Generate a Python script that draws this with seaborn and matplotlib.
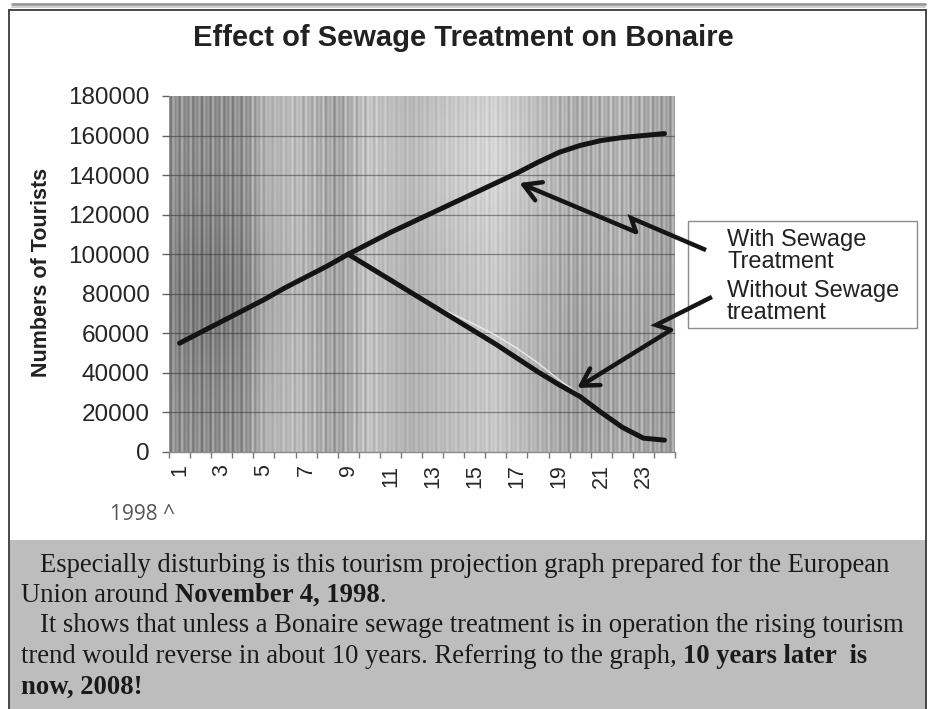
import numpy as np
import matplotlib
matplotlib.use("Agg")
import matplotlib.pyplot as plt
import seaborn as sns
import pandas as pd
from matplotlib.patches import Rectangle

# ---------------- data ----------------
categories = list(range(1, 25))
with_treatment = [55000, 60500, 66000, 71500, 77000, 83000, 88500, 94000, 100000,
                  105500, 111000, 116000, 121000, 126000, 131000, 136000, 141000,
                  146500, 151500, 155000, 157500, 159000, 160000, 161000]
without_categories = list(range(9, 25))
without_treatment = [100000, 93500, 87000, 80500, 74000, 67500, 61000, 54500, 47500,
                     40500, 34000, 28000, 20000, 12500, 7000, 6000]
trace_categories = list(range(13, 21))
trace_values = [74500, 69500, 64500, 59000, 52500, 45000, 36500, 29000]
y_ticks = [0, 20000, 40000, 60000, 80000, 100000, 120000, 140000, 160000, 180000]
x_tick_positions = list(range(1, 24, 2))
x_tick_labels = [str(c) for c in x_tick_positions]
title = "Effect of Sewage Treatment on Bonaire"
y_label = "Numbers of Tourists"
legend_with = ["With Sewage", "Treatment"]
legend_without = ["Without Sewage", "treatment"]

df_with = pd.DataFrame({"cat": categories, "tourists": with_treatment})
df_without = pd.DataFrame({"cat": without_categories, "tourists": without_treatment})
df_trace = pd.DataFrame({"cat": trace_categories, "tourists": trace_values})

# ---------------- figure ----------------
sns.set_theme(style="white")
plt.rcParams["font.family"] = ["Liberation Sans", "DejaVu Sans"]
W, H = 933, 709
fig = plt.figure(figsize=(W / 100, H / 100), dpi=100)
fig.patch.set_facecolor("white")

# overlay in pixel coordinates for page decorations
ov = fig.add_axes([0, 0, 1, 1], zorder=-1)
ov.set_xlim(0, W)
ov.set_ylim(H, 0)
ov.axis("off")

ax = fig.add_axes([169 / W, 1 - 452 / H, (675 - 169) / W, (452 - 96) / H], zorder=1)

# textured grey background of the plot area (decoration)
nx, ny = 700, 240
xs = np.linspace(0.5, 24.5, nx)
yv = np.linspace(0, 180000, ny)
ctrl_x = [0.5, 2, 4, 5, 6.5, 8.5, 10, 12, 14, 16, 18, 20, 22, 24.5]
ctrl_v = [0.58, 0.56, 0.58, 0.70, 0.74, 0.64, 0.76, 0.70, 0.75, 0.79, 0.72, 0.67, 0.70, 0.63]
base = np.interp(xs, ctrl_x, ctrl_v)
density = np.interp(xs, [0.5, 4.5, 5.5, 7.5, 9.5, 11, 18, 19.5, 24.5],
                    [1, 1, 0.35, 0.9, 0.9, 0.35, 0.45, 0.9, 0.9])
stripes = density * (0.08 * np.sin(2 * np.pi * xs / 0.21) + 0.05 * np.sin(2 * np.pi * xs / 0.37 + 1.3))
X, Y = np.meshgrid(xs, yv)
img = base[None, :] + stripes[None, :]
img = img - 0.08 * np.exp(-((X - 2.5) ** 2 / 10 + (Y - 80000) ** 2 / 45000 ** 2))
img = img + 0.05 * np.exp(-((X - 15) ** 2 / 20 + (Y - 150000) ** 2 / 40000 ** 2))
img = img - 0.05 * np.exp(-((X - 21) ** 2 / 12 + (Y - 40000) ** 2 / 50000 ** 2))
ax.imshow(img, cmap="gray", vmin=0, vmax=1, extent=[0.5, 24.5, 0, 180000],
          origin="lower", aspect="auto", interpolation="bilinear", zorder=0)

for yt in y_ticks[1:-1]:
    ax.axhline(yt, color="#222222", lw=0.9, alpha=0.45, zorder=1)

# data lines
sns.lineplot(data=df_with, x="cat", y="tourists", ax=ax, color="#141414", lw=3.6,
             zorder=4, solid_capstyle="round")
sns.lineplot(data=df_without, x="cat", y="tourists", ax=ax, color="#141414", lw=3.6,
             zorder=4, solid_capstyle="round")
sns.lineplot(data=df_trace, x="cat", y="tourists", ax=ax, color="#f2f2f2", lw=1.0,
             alpha=0.85, zorder=3)

ax.set_xlim(0.5, 24.5)
ax.set_ylim(0, 180000)
ax.set_xlabel("")
ax.set_ylabel("")
ax.set_yticks(y_ticks)
ax.set_yticklabels([str(v) for v in y_ticks])
ax.set_xticks(x_tick_positions)
ax.set_xticklabels(x_tick_labels, rotation=90)
ax.set_xticks([c + 0.5 for c in range(0, 25)], minor=True)
ax.tick_params(axis="y", which="major", left=True, length=5, width=1, color="#666666",
               labelsize=17.5, labelcolor="#262626", pad=9)
ax.tick_params(axis="x", which="major", bottom=False, length=0, labelsize=15.5,
               labelcolor="#262626", pad=9)
ax.tick_params(axis="x", which="minor", bottom=True, length=4, width=1, color="#777777")
for s in ["top", "right", "left"]:
    ax.spines[s].set_visible(False)
ax.spines["bottom"].set_color("#8a8a8a")
ax.spines["bottom"].set_linewidth(1)
ax.grid(False)

# hand-drawn style arrows (annotation)
arrow_color = "#151515"
a1 = [(25.97, 102100), (22.42, 118300), (22.65, 111200)]
a1_tip = (17.12, 136000)
a2 = [(26.25, 78400), (23.60, 64200), (24.31, 61700)]
a2_tip = (19.86, 32400)
for pts, tip in [(a1, a1_tip), (a2, a2_tip)]:
    ax.plot([p[0] for p in pts], [p[1] for p in pts], color=arrow_color, lw=3.2,
            clip_on=False, zorder=6, solid_joinstyle="miter", solid_capstyle="butt")
    ax.annotate("", xy=tip, xytext=pts[-1], annotation_clip=False, zorder=6,
                arrowprops=dict(arrowstyle="->,head_length=0.55,head_width=0.32",
                                color=arrow_color, lw=3.2, shrinkA=0, shrinkB=0,
                                mutation_scale=22))

# ---------------- page decorations ----------------
ov.plot([12, 925], [4, 4], color="#9a9a9a", lw=2.0)
ov.plot([12, 925], [7, 7], color="#c8c8c8", lw=1.2)
ov.add_patch(Rectangle((9, 540), 917, 175, facecolor="#bdbdbd", edgecolor="none"))
ov.plot([9, 9], [10, H], color="#3a3a3a", lw=1.3)
ov.plot([926, 926], [10, H], color="#3a3a3a", lw=1.3)
ov.plot([9, 926], [10, 10], color="#3a3a3a", lw=1.3)

# legend box
ov.add_patch(Rectangle((688, 221), 229, 107, facecolor="white", edgecolor="#8c8c8c", lw=1.0))
for txt, yb in zip(legend_with + legend_without, [246, 268, 297, 319]):
    ov.text(727, yb, txt, fontsize=17, color="#222222", ha="left", va="baseline")

# title & axis label
ov.text(463, 38, title, fontsize=21, fontweight="bold", color="#222222",
        ha="center", va="center")
ov.text(42, 272, y_label, fontsize=15.5, fontweight="bold", color="#222222",
        rotation=90, ha="center", va="center")
ov.text(110, 520, "1998 ^", fontsize=15, color="#555555", family=["Open Sans", "DejaVu Sans"],
        ha="left", va="baseline")

# body text with mixed bold runs
renderer = fig.canvas.get_renderer()
serif = ["Liberation Serif", "DejaVu Serif"]
fs = 19.2


def width_of(s, bold):
    t = ov.text(0, 0, s, fontsize=fs, family=serif, fontweight="bold" if bold else "normal")
    w = t.get_window_extent(renderer=renderer).width
    t.remove()
    return w


space_w = width_of("x x", False) - width_of("xx", False)


def line(x, yb, parts):
    for s, bold in parts:
        lead = len(s) - len(s.lstrip(" "))
        trail = len(s) - len(s.rstrip(" "))
        core = s.strip(" ")
        x += lead * space_w
        t = ov.text(x, yb, core, fontsize=fs, family=serif, color="#1a1a1a",
                    fontweight="bold" if bold else "normal", ha="left", va="baseline")
        x += t.get_window_extent(renderer=renderer).width + trail * space_w


line(40, 572, [("Especially disturbing is this tourism projection graph prepared for the European", False)])
line(21, 602, [("Union around ", False), ("November 4, 1998", True), (".", False)])
line(40, 632, [("It shows that unless a Bonaire sewage treatment is in operation the rising tourism", False)])
line(21, 663, [("trend would reverse in about 10 years. Referring to the graph, ", False),
               ("10 years later  is", True)])
line(21, 694, [("now, 2008!", True)])

fig.savefig("out.png", dpi=100, facecolor="white")
